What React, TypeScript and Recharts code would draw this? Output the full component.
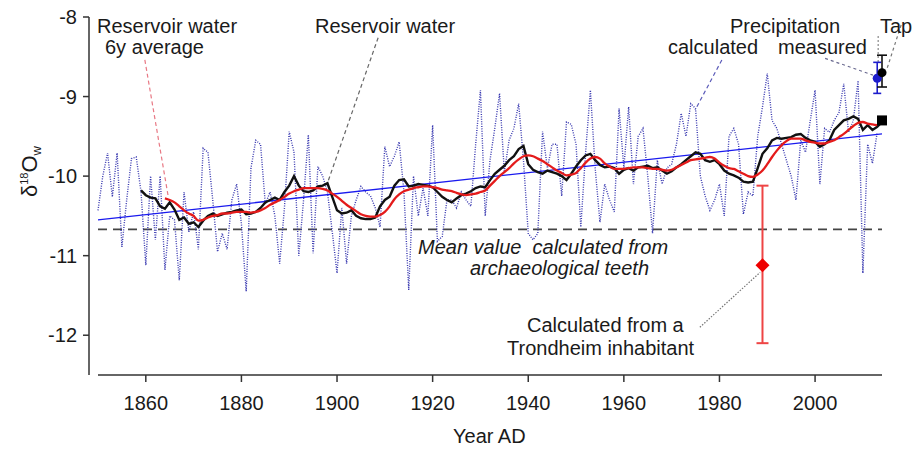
import {
  ComposedChart,
  ErrorBar,
  Line,
  ReferenceLine,
  Scatter,
  XAxis,
  YAxis,
} from "recharts";

const FONT = "'Liberation Sans', Arial, sans-serif";

// precipitation, calculated (annual), 1850-2013
const PRECIP_START = 1850;
const precipCalc = [
  -10.43, -10.0, -9.71, -10.26, -9.71, -10.89, -10.3, -9.78, -9.76, -10.2,
  -11.12, -10.0, -10.8, -10.0, -11.18, -10.5, -10.55, -11.31, -10.2, -10.7,
  -10.45, -10.92, -9.65, -9.7, -10.3, -10.95, -10.72, -10.92, -10.3, -10.1,
  -10.6, -11.45, -9.9, -9.55, -9.6, -10.35, -10.2, -10.5, -11.1, -10.4,
  -9.44, -9.7, -11.0, -10.3, -9.48, -10.97, -9.88, -10.0, -10.2, -10.7,
  -11.22, -10.4, -11.1, -10.5, -10.3, -10.13, -10.2, -10.25, -10.4, -10.64,
  -9.63, -9.88, -9.75, -9.57, -10.2, -11.43, -10.0, -10.5, -10.15, -10.5,
  -9.36, -10.82, -10.76, -10.3, -10.3, -10.4, -10.2, -10.3, -10.38, -9.6,
  -8.92, -10.5, -9.8, -9.4, -8.96, -9.95, -9.55, -9.4, -9.09, -9.8,
  -10.72, -10.8, -10.72, -9.44, -9.9, -9.6, -9.6, -10.25, -9.32, -9.35,
  -9.6, -10.64, -9.7, -8.92, -9.9, -10.58, -10.1, -10.3, -10.45, -9.15,
  -9.9, -9.13, -10.1, -9.5, -9.4, -10.0, -10.72, -9.8, -10.1, -9.9,
  -9.85, -9.6, -9.21, -9.5, -9.09, -9.15, -10.0, -10.25, -10.43, -10.3,
  -10.1, -10.5, -9.5, -9.4, -9.6, -10.48, -10.2, -10.25, -9.5, -9.13,
  -8.71, -9.3, -9.4, -9.6, -9.8, -10.0, -10.3, -9.55, -9.7, -9.3,
  -8.92, -10.1, -9.4, -9.45, -9.3, -9.2, -8.84, -9.45, -9.3, -8.8,
  -11.22, -9.6, -9.84, -9.45,
];

// reservoir water, 1859-2014
const RESERVOIR_START = 1859;
const reservoirWater = [
  -10.18,
  -10.24, -10.27, -10.28, -10.38, -10.41, -10.33, -10.42, -10.55, -10.52, -10.6,
  -10.58, -10.64, -10.56, -10.5, -10.47, -10.5, -10.48, -10.46, -10.45, -10.43,
  -10.42, -10.48, -10.47, -10.45, -10.4, -10.33, -10.3, -10.27, -10.3, -10.2,
  -10.12, -10.0, -10.12, -10.19, -10.2, -10.18, -10.13, -10.12, -10.09, -10.26,
  -10.43, -10.47, -10.46, -10.43, -10.5, -10.53, -10.54, -10.54, -10.52, -10.38,
  -10.3, -10.26, -10.12, -10.05, -10.04, -10.13, -10.12, -10.1, -10.11, -10.12,
  -10.14, -10.2, -10.26, -10.3, -10.33, -10.28, -10.24, -10.22, -10.19, -10.15,
  -10.13, -10.14, -10.05, -9.97, -9.92, -9.87, -9.8, -9.75, -9.66, -9.62,
  -9.85, -9.92, -9.95, -9.97, -9.93, -9.95, -9.97, -10.0, -10.05, -9.97,
  -9.88, -9.8, -9.74, -9.72, -9.8, -9.86, -9.89, -9.88, -9.9, -9.97,
  -9.92, -9.9, -9.93, -9.89, -9.88, -9.87, -9.9, -9.89, -9.93, -9.97,
  -9.94, -9.89, -9.85, -9.8, -9.75, -9.7, -9.72, -9.8, -9.82, -9.8,
  -9.85, -9.93, -9.97, -9.99, -10.02, -10.07, -10.08, -10.07, -9.9, -9.72,
  -9.65, -9.55, -9.52, -9.53, -9.52, -9.51, -9.48, -9.47, -9.52, -9.55,
  -9.57, -9.63, -9.6, -9.55, -9.42, -9.36, -9.3, -9.28, -9.25, -9.28,
  -9.42, -9.36, -9.42, -9.38, -9.32,
];

// reservoir water, 6y average, 1864-2013
const AVG_START = 1864;
const reservoir6y = [
  -10.28, -10.3, -10.33, -10.38, -10.43, -10.47,
  -10.5, -10.56, -10.55, -10.52, -10.5, -10.49, -10.47, -10.47, -10.46, -10.45,
  -10.45, -10.45, -10.46, -10.45, -10.43, -10.4, -10.36, -10.33, -10.3, -10.26,
  -10.22, -10.19, -10.17, -10.15, -10.15, -10.15, -10.15, -10.16, -10.18, -10.22,
  -10.26, -10.31, -10.36, -10.4, -10.44, -10.48, -10.5, -10.51, -10.51, -10.49,
  -10.45, -10.38, -10.29, -10.23, -10.19, -10.17, -10.15, -10.14, -10.13, -10.13,
  -10.14, -10.15, -10.17, -10.18, -10.19, -10.21, -10.23, -10.24, -10.23, -10.22,
  -10.2, -10.18, -10.12, -10.06, -10.0, -9.95, -9.9, -9.84, -9.79, -9.75,
  -9.74, -9.75, -9.78, -9.81, -9.85, -9.89, -9.93, -9.96, -9.99, -9.98,
  -9.96, -9.9, -9.83, -9.78, -9.76, -9.78, -9.84, -9.88, -9.91, -9.91,
  -9.91, -9.9, -9.89, -9.89, -9.89, -9.9, -9.91, -9.91, -9.92, -9.93,
  -9.92, -9.89, -9.86, -9.83, -9.8, -9.79, -9.78, -9.77, -9.76, -9.78,
  -9.83, -9.87, -9.9, -9.91, -9.94, -9.97, -10.0, -10.01, -9.98, -9.93,
  -9.85, -9.76, -9.68, -9.61, -9.56, -9.53, -9.53, -9.53, -9.55, -9.57,
  -9.58, -9.59, -9.59, -9.57, -9.55, -9.51, -9.47, -9.42, -9.37, -9.33,
  -9.32, -9.34, -9.35, -9.36,
];

// linear trend of the calculated precipitation
const trendYears = [1850, 2014];
const trendValues = [-10.55, -9.47];

const teethMean = -10.67;

const trondheim = [{ year: 1989, value: -11.12, err: [0.98, 1.0] }];
const precipMeasured = [{ year: 2013, value: -8.77, err: [0.19, 0.2] }];
const tapWater = [{ year: 2014, value: -8.7, err: [0.18, 0.22] }];
const tapReservoir = [{ year: 2014, value: -9.3 }];

const xTicks = [1860, 1880, 1900, 1920, 1940, 1960, 1980, 2000];
const yTicks = [-12, -11, -10, -9, -8];
const X_DOMAIN = [1850, 2014];
const Y_DOMAIN = [-12.5, -8];

const rows: any[] = [];
for (let y = X_DOMAIN[0]; y <= X_DOMAIN[1]; y++) {
  const t = trendYears.indexOf(y);
  rows.push({
    year: y,
    precip: precipCalc[y - PRECIP_START] ?? null,
    reservoir: y >= RESERVOIR_START ? reservoirWater[y - RESERVOIR_START] ?? null : null,
    avg6: y >= AVG_START ? reservoir6y[y - AVG_START] ?? null : null,
    trend: t >= 0 ? trendValues[t] : null,
  });
}

// annotation leader lines, in data units
const leaders = [
  { a: [1859.8, -8.54], b: [1864.7, -10.26], color: "#e87884", dash: "4 3" },
  { a: [1908.6, -8.26], b: [1898.1, -10.07], color: "#666", dash: "4 3" },
  { a: [1980.5, -8.54], b: [1974.9, -9.17], color: "#5a5ab8", dash: "4 3" },
  { a: [2002.1, -8.52], b: [2012.1, -8.73], color: "#6a6a90", dash: "3 3" },
  { a: [2018.0, -8.1], b: [2015.1, -8.64], color: "#777", dash: "3 3" },
  { a: [2013.2, -8.24], b: [2013.2, -8.57], color: "#888", dash: "2 2" },
  { a: [1975.9, -11.9], b: [1988.5, -11.21], color: "#777", dash: "1.5 1.5" },
];

const diamond = (p: any) => (
  <path
    d={`M${p.cx},${p.cy - 7}L${p.cx + 7},${p.cy}L${p.cx},${p.cy + 7}L${p.cx - 7},${p.cy}Z`}
    fill="#ee0000"
  />
);
const dot = (color: string) => (p: any) => <circle cx={p.cx} cy={p.cy} r={4.5} fill={color} />;
const square = (p: any) => <rect x={p.cx - 5} y={p.cy - 5} width={10} height={10} fill="#000" />;

const txt = { fontFamily: FONT, fontSize: 20, fill: "#1a1a1a" };

export default function App() {
  return (
    <div style={{ position: "absolute", left: 0, top: 0, width: 915, height: 449, background: "#fff" }}>
      <ComposedChart
        width={915}
        height={449}
        data={rows}
        margin={{ top: 17, right: 33, bottom: 0, left: 0 }}
      >
        <XAxis
          type="number"
          dataKey="year"
          domain={X_DOMAIN}
          ticks={xTicks}
          padding={{ left: 9, right: 0 }}
          axisLine={false}
          tickLine={{ stroke: "#333", strokeWidth: 1.5 }}
          tickSize={7}
          tickMargin={14}
          height={74}
          tick={{ fontSize: 20, fill: "#1a1a1a", fontFamily: FONT }}
        />
        <YAxis
          type="number"
          domain={Y_DOMAIN}
          ticks={yTicks}
          width={89}
          axisLine={{ stroke: "#333", strokeWidth: 1.5 }}
          tickLine={{ stroke: "#333", strokeWidth: 1.5 }}
          tickSize={6}
          tickMargin={6}
          tick={{ fontSize: 20, fill: "#1a1a1a", fontFamily: FONT }}
        />
        <ReferenceLine
          segment={[{ x: X_DOMAIN[0], y: Y_DOMAIN[0] }, { x: X_DOMAIN[1], y: Y_DOMAIN[0] }]}
          stroke="#333"
          strokeWidth={1.5}
          ifOverflow="visible"
        />
        <ReferenceLine
          segment={[{ x: X_DOMAIN[0], y: teethMean }, { x: X_DOMAIN[1], y: teethMean }]}
          stroke="#444"
          strokeWidth={1.6}
          strokeDasharray="9 6"
          ifOverflow="visible"
        />
        {leaders.map((l, i) => (
          <ReferenceLine
            key={i}
            segment={[{ x: l.a[0], y: l.a[1] }, { x: l.b[0], y: l.b[1] }]}
            stroke={l.color}
            strokeWidth={1.2}
            strokeDasharray={l.dash}
            ifOverflow="visible"
          />
        ))}
        <Line
          dataKey="precip"
          stroke="#3838b0"
          strokeWidth={1.4}
          strokeDasharray="1 1.4"
          dot={false}
          activeDot={false}
          isAnimationActive={false}
        />
        <Line
          dataKey="trend"
          stroke="#1a1aee"
          strokeWidth={1.3}
          connectNulls
          dot={false}
          activeDot={false}
          isAnimationActive={false}
        />
        <Line
          dataKey="reservoir"
          stroke="#111"
          strokeWidth={2.4}
          dot={false}
          activeDot={false}
          isAnimationActive={false}
        />
        <Line
          dataKey="avg6"
          type="monotone"
          stroke="#e41b1b"
          strokeWidth={2.3}
          dot={false}
          activeDot={false}
          isAnimationActive={false}
        />
        <Scatter data={trondheim} dataKey="value" shape={diamond} isAnimationActive={false}>
          <ErrorBar dataKey="err" direction="y" width={6} stroke="#ee4444" strokeWidth={2} />
        </Scatter>
        <Scatter data={precipMeasured} dataKey="value" shape={dot("#1c1ccc")} isAnimationActive={false}>
          <ErrorBar dataKey="err" direction="y" width={4} stroke="#1c1ccc" strokeWidth={1.6} />
        </Scatter>
        <Scatter data={tapWater} dataKey="value" shape={dot("#000")} isAnimationActive={false}>
          <ErrorBar dataKey="err" direction="y" width={5} stroke="#111" strokeWidth={1.6} />
        </Scatter>
        <Scatter data={tapReservoir} dataKey="value" shape={square} isAnimationActive={false} />
      </ComposedChart>
      <svg
        width={915}
        height={449}
        style={{ position: "absolute", left: 0, top: 0, pointerEvents: "none" }}
      >
        <text {...txt} x={97} y={33}>Reservoir water</text>
        <text {...txt} x={105} y={54}>6y average</text>
        <text {...txt} x={315} y={33}>Reservoir water</text>
        <text {...txt} x={730} y={33}>Precipitation</text>
        <text {...txt} x={668} y={54}>calculated</text>
        <text {...txt} x={778} y={54}>measured</text>
        <text {...txt} x={880} y={33}>Tap</text>
        <text {...txt} x={418} y={254} fontStyle="italic" style={{ whiteSpace: "pre" }}>
          {"Mean value  calculated from"}
        </text>
        <text {...txt} x={470} y={275} fontStyle="italic">archaeological teeth</text>
        <text {...txt} x={527} y={332}>Calculated from a</text>
        <text {...txt} x={507} y={355}>Trondheim inhabitant</text>
        <text {...txt} x={453} y={443}>Year AD</text>
        <text {...txt} fontSize={22} transform="translate(37,197) rotate(-90)">
          δ<tspan fontSize={11} dy={-9}>18</tspan>
          <tspan dy={9}>O</tspan>
          <tspan fontSize={13} dy={4}>w</tspan>
        </text>
      </svg>
    </div>
  );
}
